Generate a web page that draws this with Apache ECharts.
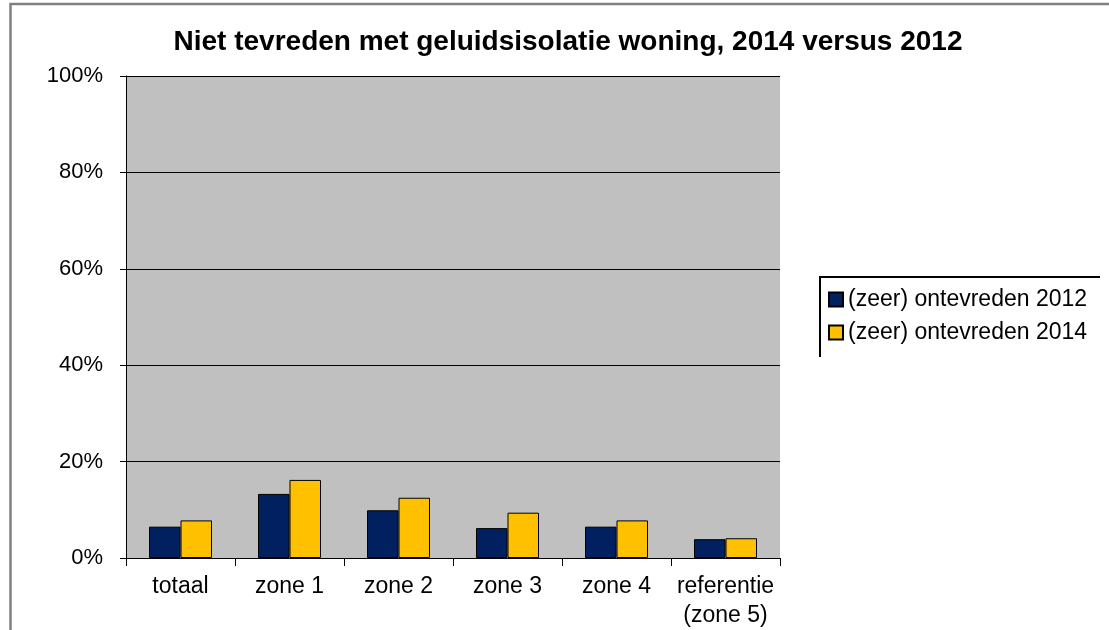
<!DOCTYPE html>
<html>
<head>
<meta charset="utf-8">
<script src="https://cdn.jsdelivr.net/npm/echarts@6/dist/echarts.min.js"></script>
<style>
  html, body { margin: 0; padding: 0; background: #fff; }
</style>
</head>
<body>
<div id="chart" style="width: 1109px; height: 630px"></div>
<script>
// categorieën en waarden (in %)
var categories = ["totaal", "zone 1", "zone 2", "zone 3", "zone 4", "referentie\n(zone 5)"];
var ontevreden2012 = [6.5, 13.3, 9.9, 6.2, 6.5, 3.9];
var ontevreden2014 = [7.8, 16.2, 12.5, 9.4, 7.8, 4.1];
var seriesNames = ["(zeer) ontevreden 2012", "(zeer) ontevreden 2014"];

var myChart = echarts.init(document.getElementById("chart"));
var font = "Arial, 'Liberation Sans', sans-serif";

var option = {
  animation: false,
  backgroundColor: "#fff",
  title: {
    text: "Niet tevreden met geluidsisolatie woning, 2014 versus 2012",
    left: 563,
    textAlign: "center",
    top: 23,
    textStyle: {
      color: "#000",
      fontFamily: font,
      fontWeight: "bold",
      fontSize: 28,
      lineHeight: 28,
    },
  },
  legend: {
    orient: "vertical",
    left: 828,
    top: 288,
    padding: 0,
    itemWidth: 14,
    itemHeight: 14,
    itemGap: 10,
    icon: "rect",
    data: seriesNames,
    textStyle: {
      color: "#000",
      fontFamily: font,
      fontSize: 23,
      lineHeight: 23,
    },
  },
  grid: {
    left: 126,
    top: 76,
    width: 654,
    height: 484,
    show: true,
    backgroundColor: "#c0c0c0",
    borderWidth: 0,
  },
  xAxis: {
    type: "category",
    data: categories,
    axisLine: { lineStyle: { color: "#000", width: 1 } },
    axisTick: { show: true, length: 8, lineStyle: { color: "#000" } },
    axisLabel: {
      color: "#000",
      fontFamily: font,
      fontSize: 23,
      lineHeight: 29,
      margin: 14,
      interval: 0,
    },
  },
  yAxis: {
    type: "value",
    min: 0,
    max: 100,
    interval: 20,
    axisLine: { show: true, lineStyle: { color: "#000", width: 1 } },
    axisTick: { show: true, length: 6, lineStyle: { color: "#000" } },
    splitLine: { lineStyle: { color: "#000", width: 1 } },
    axisLabel: {
      formatter: "{value}%",
      color: "#000",
      fontFamily: font,
      fontSize: 22,
      margin: 23,
    },
  },
  series: [
    {
      name: seriesNames[0],
      type: "bar",
      data: ontevreden2012,
      barWidth: 31.5,
      barGap: 0,
      itemStyle: { color: "#002060", borderColor: "#000", borderWidth: 1 },
    },
    {
      name: seriesNames[1],
      type: "bar",
      data: ontevreden2014,
      barWidth: 31.5,
      itemStyle: { color: "#ffc000", borderColor: "#000", borderWidth: 1 },
    },
  ],
  graphic: [
    // grijze kader van de figuur
    {
      type: "polyline",
      shape: { points: [[10.5, 630], [10.5, 4], [1109, 4]] },
      style: { stroke: "#808080", lineWidth: 2.5, fill: null },
      silent: true,
    },
    // legendakader (alleen boven- en linkerrand zichtbaar)
    {
      type: "polyline",
      shape: { points: [[820, 357], [820, 277], [1100, 277]] },
      style: { stroke: "#000", lineWidth: 2, fill: null },
      silent: true,
    },
  ],
};

myChart.setOption(option);
</script>
</body>
</html>
